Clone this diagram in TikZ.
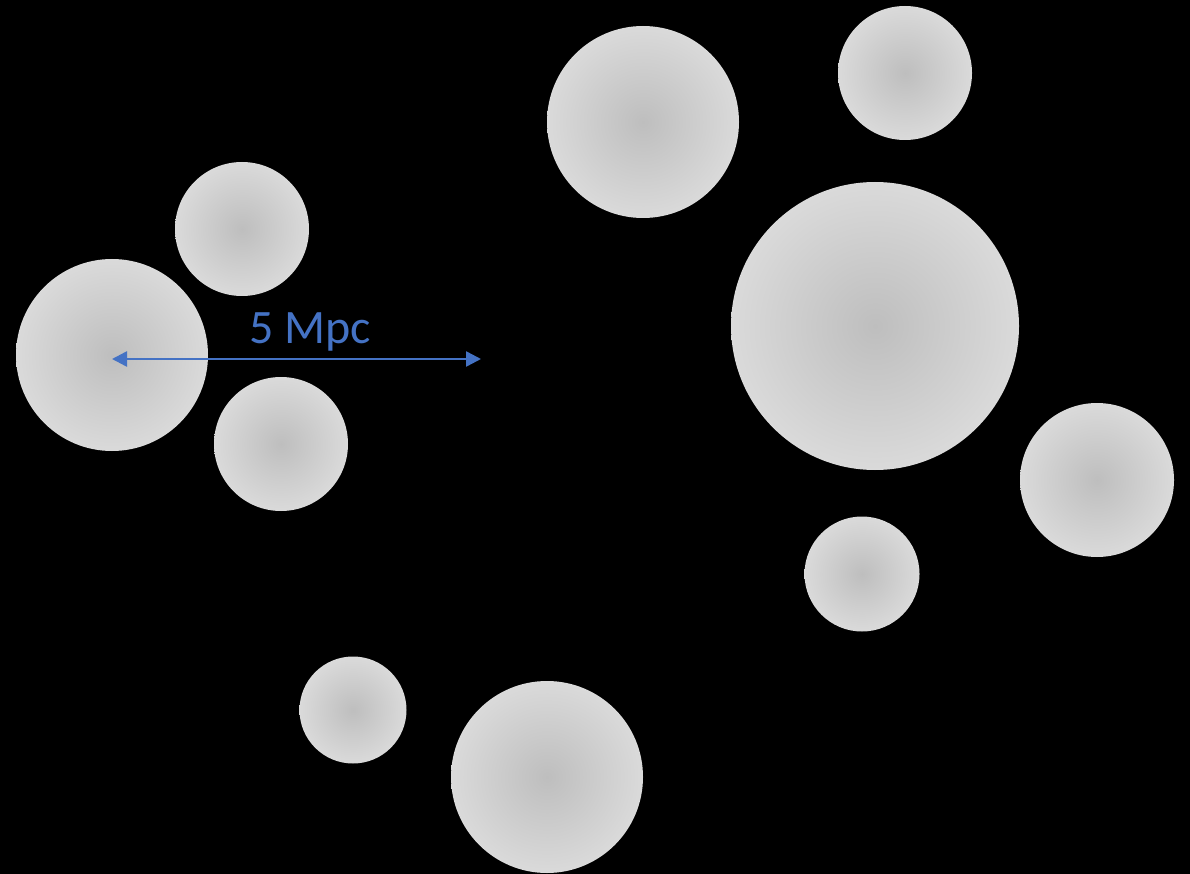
\documentclass[tikz,border=0pt]{standalone}
\usepackage{fontspec}
\setmainfont{Carlito}
\usetikzlibrary{arrows.meta}
\definecolor{ballin}{RGB}{190,190,190}
\definecolor{ballout}{RGB}{218,218,218}
\definecolor{arrowblue}{RGB}{68,114,196}
\pgfdeclareradialshading{ball}{\pgfpoint{0bp}{0bp}}{color(0bp)=(ballin); color(25bp)=(ballout); color(50bp)=(ballout)}
\tikzset{
  galaxy/.style={circle, minimum size=#1, inner sep=0pt, shading=ball},
  dim/.style={draw=arrowblue, line width=2.5pt, {Triangle[length=15pt,width=15pt]}-{Triangle[length=15pt,width=15pt]}},
  lbl/.style={text=arrowblue, font=\fontsize{48}{50}\selectfont, inner sep=0pt}
}
\begin{document}
\begin{tikzpicture}[x=1pt,y=-1pt]
\fill[black] (0,0) rectangle (1190,874);
\useasboundingbox (0,0) rectangle (1190,874);
\node[galaxy=192pt] (g1) at (643,122) {};
\node[galaxy=134pt] (g2) at (905,73) {};
\node[galaxy=134pt] (g3) at (242,229) {};
\node[galaxy=192pt] (g4) at (112,355) {};
\node[galaxy=134pt] (g5) at (281,444) {};
\node[galaxy=288pt] (g6) at (875,326) {};
\node[galaxy=154pt] (g7) at (1097,480) {};
\node[galaxy=115pt] (g8) at (862,574) {};
\node[galaxy=107pt] (g9) at (353,710) {};
\node[galaxy=192pt] (g10) at (547,777) {};
\coordinate (a1) at (112,359);
\coordinate (a2) at (481,359);
\draw[dim] (a1) -- (a2);
\node[lbl, anchor=base] (t) at (310,343) {5 Mpc};
\end{tikzpicture}
\end{document}
